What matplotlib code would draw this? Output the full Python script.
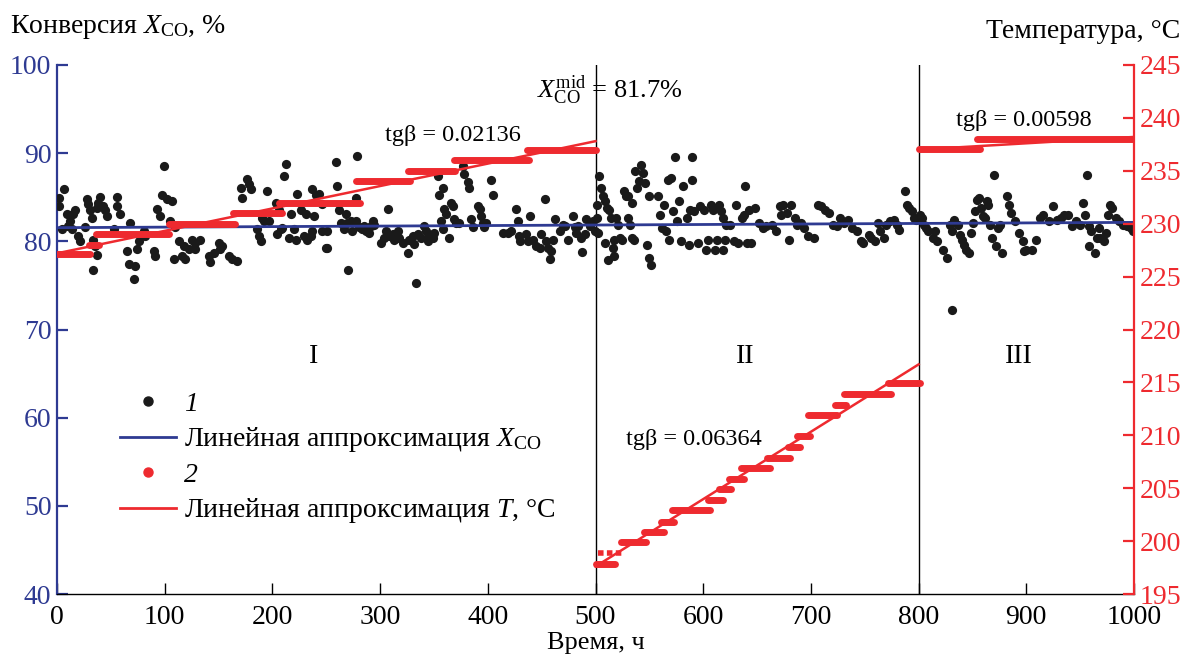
import matplotlib
matplotlib.use("Agg")
import matplotlib.pyplot as plt
from matplotlib.lines import Line2D
import numpy as np

plt.rcParams['font.family'] = ['Liberation Serif', 'DejaVu Serif']
plt.rcParams['mathtext.fontset'] = 'custom'
plt.rcParams['mathtext.rm'] = 'Liberation Serif'
plt.rcParams['mathtext.it'] = 'Liberation Serif:italic'

BLUE = '#2e3a92'
RED = '#ee2a2f'

# ---- conversion data X_CO (%) vs time (h) ----
time_I = [6.8,1.9,1.9,9.0,12.1,15.2,16.8,10.6,4.3,13.7,19.9,21.4,26.1,27.6,29.2,30.7,32.3,36.9,38.5,40.0,43.1,44.7,46.2,33.8,35.4,36.9,33.8,52.5,55.6,55.6,58.7,68.0,64.9,66.4,72.6,74.2,71.1,75.7,80.4,81.9,89.7,91.3,92.8,95.9,97.5,99.0,102.1,106.8,105.2,108.3,109.9,113.0,117.6,116.1,119.2,122.3,125.4,128.5,133.2,128.5,140.9,142.5,145.6,150.2,151.8,153.3,159.5,162.6,167.3,170.4,172.0,176.6,178.2,179.7,185.9,189.0,187.5,192.1,195.2,203.0,206.1,204.6,207.7,212.3,210.8,215.4,217.0,220.1,221.6,223.2,226.3,229.4,230.9,232.5,237.1,238.7,240.2,243.4,246.5,246.5,249.6,237.1,235.6,209.2,196.8,190.6]
conv_I = [85.9,84.97,84.0,83.1,82.3,83.1,83.5,81.75,81.4,81.4,80.6,80.0,81.6,84.8,84.2,83.5,82.7,83.8,84.4,85.0,84.0,83.5,82.9,80.2,79.5,78.5,76.8,81.4,85.0,84.0,83.1,82.1,78.9,77.4,77.2,79.1,75.7,80.0,81.2,80.6,78.9,78.3,83.65,82.9,85.2,88.6,84.8,84.6,82.3,78.0,81.6,80.0,79.5,78.3,78.0,79.1,80.2,79.85,80.2,79.1,78.3,77.6,78.7,79.85,79.1,79.5,78.3,78.0,77.8,86.1,84.97,87.1,86.5,85.9,81.4,80.0,80.6,82.3,85.7,84.4,83.5,80.8,81.4,88.8,87.4,80.4,83.1,81.4,80.2,85.35,83.5,80.6,83.1,80.2,85.9,82.9,85.2,85.35,84.2,81.2,79.3,81.2,80.6,81.56,82.3,82.7]

time_Ib = [251.1,251.1,259.4,260.4,261.9,263.5,266.6,268.1,269.7,270.6,272.8,274.3,277.4,277.4,278.4,280.5,283.6,285.2,286.7,289.9,291.4,293.0,294.5,300.7,303.8,305.4,306.9,308.5,311.6,313.1,316.2,317.8,320.9,325.5,327.1,330.2,331.8,333.3,334.9,338.0,341.1,342.6,344.2,345.7,348.8,350.4,353.5,355.0,356.6,358.1,358.1,359.7,361.2,364.3,365.9,367.5,369.0,370.6,373.7,376.8,378.3,381.4,383.0,384.5,386.1,390.7,392.3,393.8,395.4,396.9,398.5,403.1,404.7,414.0,418.7,421.8,426.4,428.0,428.9,429.5,435.7,437.3,438.8,441.9,445.1,448.2,449.7,452.8,454.4,455.9,459.0,458.1,460.6,462.1,466.8,469.9,471.4,474.5,479.2,480.7,482.3,483.9,487.0,487.9,490.1,491.6,494.7,497.8,499.4]
conv_Ib = [81.2,79.3,89.0,86.3,83.5,82.1,81.4,83.1,82.1,76.7,82.3,81.2,82.3,84.9,89.7,81.6,81.4,81.75,81.2,81.0,81.75,82.3,81.9,79.85,80.4,81.2,83.7,80.6,80.8,80.2,81.2,80.4,79.85,78.7,80.2,80.6,79.7,75.3,80.8,80.4,81.75,81.2,80.0,80.6,80.4,81.0,87.4,85.2,82.3,81.4,86.1,83.65,83.1,80.4,84.4,84.0,82.5,82.1,82.1,88.6,87.6,86.7,86.1,82.5,81.6,84.0,83.65,82.9,82.1,81.6,82.1,86.9,85.2,81.0,81.0,81.2,83.65,82.3,80.6,80.0,80.8,80.0,82.9,80.2,79.5,79.3,80.8,84.8,80.0,79.3,78.9,78.0,80.2,82.5,81.2,81.9,81.75,80.2,82.9,81.6,81.0,81.75,80.4,78.8,80.8,82.5,81.75,82.3,81.2]

time_II = [501.1,501.8,502.5,503.5,505.3,507.1,508.8,510.6,512.3,508.8,511.6,514.1,515.9,517.6,517.6,519.4,521.2,522.9,524.7,526.4,528.2,530.0,531.7,533.5,535.3,530.0,533.5,537.0,538.8,540.5,542.3,544.1,545.8,547.6,549.4,551.1,549.4,558.2,559.9,561.7,563.5,565.2,567.0,568.7,570.5,572.3,574.0,575.8,577.6,579.3,581.1,584.6,586.4,588.1,589.2,589.9,591.7,595.2,596.9,600.5,602.2,604.0,607.5,609.3,611.0,612.8,614.6,616.3,618.1,619.9,618.1,621.6,625.1,628.7,630.4,632.2,635.7,637.5,639.2,641.0,642.8,644.5,648.1,651.6,655.1,658.6,663.9,667.4,671.0,672.7,674.5,678.0,679.8,681.5,685.1,686.8,690.4,693.9,697.4,702.7,706.2,709.7,713.3,716.8,720.3,723.8,727.4,730.9,734.4,737.9,743.2,746.8,748.5,753.8,755.6,759.1,762.6,764.4,767.9,769.7,773.2,776.7,780.2,782.0,787.3,789.1,790.8,794.3,796.1,797.9]
conv_II = [84.15,82.64,80.94,87.36,86.04,85.09,84.53,83.77,83.59,79.81,77.92,82.64,79.25,78.30,80.19,82.64,81.89,80.38,80.19,85.66,85.09,82.64,81.89,80.38,80.19,85.09,84.34,88.0,86.04,86.79,88.68,87.74,86.6,79.62,78.11,77.36,85.09,85.09,83.02,81.51,84.15,81.13,86.98,80.19,87.17,83.4,89.62,82.26,84.53,80.0,86.23,82.64,79.62,83.59,86.98,89.62,83.4,79.81,83.96,83.59,79.06,80.19,84.15,83.59,79.06,80.19,84.15,83.4,79.06,80.19,82.64,81.89,81.89,80.0,84.15,79.81,82.64,83.02,86.23,79.81,83.59,79.81,83.77,82.08,81.51,81.7,81.89,81.13,83.96,83.02,84.15,83.21,80.19,84.15,82.64,81.89,82.08,81.51,80.57,80.38,84.15,83.96,83.59,83.21,81.89,81.7,82.64,82.08,82.45,81.51,81.13,80.0,79.81,80.75,80.38,80.0,82.08,81.13,80.38,81.89,82.26,82.45,81.89,81.32,85.66,84.15,83.77,83.4,82.64,82.45]

time_III = [801.4,803.2,804.9,806.7,808.4,813.7,815.5,817.3,822.5,826.1,829.6,831.4,831.4,833.1,836.6,838.4,840.2,841.9,843.7,847.2,849.0,850.7,852.5,854.3,856.0,857.8,859.6,861.3,863.1,864.8,866.6,868.4,870.1,871.9,873.7,875.4,877.2,882.5,884.2,886.0,889.5,893.0,896.6,898.3,900.1,905.4,908.9,912.4,915.9,921.2,924.8,928.3,931.8,935.3,938.9,942.4,945.9,949.4,953.0,954.7,956.5,958.3,960.0,958.3,963.5,965.3,967.1,968.8,972.4,974.1,975.9,977.6,979.4,982.9,986.5,990.0,993.5,997.0,999.5]
conv_III = [83.02,82.64,81.89,81.51,81.13,80.38,81.13,80.0,79.06,78.11,81.89,81.13,72.26,82.45,81.89,80.75,80.19,79.62,79.06,78.68,80.94,82.08,83.4,84.72,84.91,83.77,82.83,82.64,84.53,84.15,81.89,80.38,87.55,79.43,81.51,81.89,78.68,85.09,84.15,83.21,82.26,80.94,80.0,78.87,79.06,79.06,80.19,82.64,83.02,82.26,83.96,82.45,82.64,83.02,83.02,81.7,82.26,81.89,84.34,83.02,87.55,81.7,81.13,79.43,78.68,80.38,81.51,80.38,80.0,80.94,83.02,84.15,83.77,82.64,82.26,81.89,81.7,81.51,81.13]

# ---- temperature steps (°C) ----
step_start = [0, 30, 36, 104, 163, 206, 278, 326, 369, 436,
              500, 524, 545, 561, 571, 604, 615, 624, 635, 659, 679, 687, 697, 722, 731, 772,
              800, 854]
step_end = [31, 39, 104, 165, 209, 281, 328, 370, 438, 500,
            518, 547, 564, 573, 606, 618, 626, 638, 662, 681, 690, 699, 724, 733, 774, 801,
            857, 1000]
step_T = [227.1, 228.0, 229.0, 230.0, 231.0, 232.0, 234.0, 235.0, 236.0, 237.0,
          197.8, 199.9, 200.85, 201.8, 202.9, 203.9, 204.9, 205.9, 206.9, 207.9, 208.9, 209.9, 211.9, 212.9, 213.9, 214.9,
          237.1, 238.0]
dotted_step = ([502, 526], [198.9, 198.9])

# linear fits
fitX_t = [0, 1000]
fitX_v = [81.55, 82.15]
fitT_I = ([0, 500], [227.2, 237.8])
fitT_II = ([500, 800], [197.6, 216.7])
fitT_III = ([800, 1000], [237.0, 238.2])

xticks = [0, 100, 200, 300, 400, 500, 600, 700, 800, 900, 1000]
yticks_left = [40, 50, 60, 70, 80, 90, 100]
yticks_right = [195, 200, 205, 210, 215, 220, 225, 230, 235, 240, 245]

fig = plt.figure(figsize=(11.85, 6.59), dpi=100)
ax = fig.add_axes([57/1185, 65/659, 1077/1185, 529/659])
ax2 = ax.twinx()

ax.set_xlim(0, 1000)
ax.set_ylim(40, 100)
ax2.set_ylim(195, 245)

t_all = time_I + time_Ib + time_II + time_III
v_all = conv_I + conv_Ib + conv_II + conv_III
ax.scatter(t_all, v_all, s=44, color='#1a1a1a', zorder=3, linewidths=0)
ax.plot(fitX_t, fitX_v, color=BLUE, lw=2.0, zorder=4)

for s, e, T in zip(step_start, step_end, step_T):
    ax2.plot([s, e], [T, T], color=RED, lw=5.0, solid_capstyle='round', zorder=2)
ax2.plot(dotted_step[0], dotted_step[1], color=RED, lw=4, ls=(0, (1.0, 0.6)), zorder=2)
for f in (fitT_I, fitT_II, fitT_III):
    ax2.plot(f[0], f[1], color=RED, lw=1.8, zorder=2)

for xv in (500, 800):
    ax.axvline(xv, color='black', lw=1.0, zorder=1)

# spines
ax.spines['top'].set_visible(False)
ax2.spines['top'].set_visible(False)
ax.spines['right'].set_visible(False)
ax2.spines['left'].set_visible(False)
ax2.spines['bottom'].set_visible(False)
ax.spines['left'].set_color(BLUE)
ax.spines['left'].set_linewidth(1.6)
ax2.spines['right'].set_color(RED)
ax2.spines['right'].set_linewidth(1.6)
ax.spines['bottom'].set_linewidth(1.0)

ax.set_xticks(xticks)
ax.set_yticks(yticks_left)
ax2.set_yticks(yticks_right)
ax.tick_params(axis='x', direction='in', length=8, width=1.0, labelsize=20, pad=8, colors='black')
ax.tick_params(axis='y', direction='in', length=8, width=1.6, labelsize=20, pad=4, colors=BLUE)
ax2.tick_params(axis='y', direction='in', length=8, width=1.6, labelsize=20, pad=4, colors=RED)

ax.set_xlabel('Время, ч', fontsize=19, labelpad=0)
ax.xaxis.set_label_coords(0.5, -0.071)

fig.text(10/1185, 1 - 27/659, 'Конверсия $X_{\\rm CO}$, %', fontsize=20, ha='left', va='center')
fig.text(1180/1185, 1 - 32/659, 'Температура, °C', fontsize=20, ha='right', va='center')

ax2.text(368, 238.3, 'tgβ = 0.02136', fontsize=17.5, ha='center', va='center')
ax2.text(898, 239.8, 'tgβ = 0.00598', fontsize=17.5, ha='center', va='center')
ax2.text(591, 209.6, 'tgβ = 0.06364', fontsize=17.5, ha='center', va='center')
ax2.text(513, 242.6, '$X_{\\rm CO}^{\\rm mid}$ = 81.7%', fontsize=19, ha='center', va='center')

for lbl, tx in (('I', 238), ('II', 639), ('III', 893)):
    ax.text(tx, 66.9, lbl, fontsize=20, ha='center', va='center')

handles = [
    Line2D([], [], ls='none', marker='o', ms=6.5, color='#1a1a1a'),
    Line2D([], [], color=BLUE, lw=2.0),
    Line2D([], [], ls='none', marker='o', ms=6.5, color=RED),
    Line2D([], [], color=RED, lw=2.0),
]
labels = ['1', 'Линейная аппроксимация $X_{\\rm CO}$',
          '2', 'Линейная аппроксимация $T$, °C']
leg = ax.legend(handles, labels, loc='upper left', bbox_to_anchor=(101/1185, 1 - 372/659),
                bbox_transform=fig.transFigure, frameon=False, fontsize=20,
                handlelength=2.0, handletextpad=0.3, labelspacing=0.3, borderpad=0.2)
for i in (0, 2):
    leg.get_texts()[i].set_fontstyle('italic')

fig.savefig('out.png', dpi=100)
